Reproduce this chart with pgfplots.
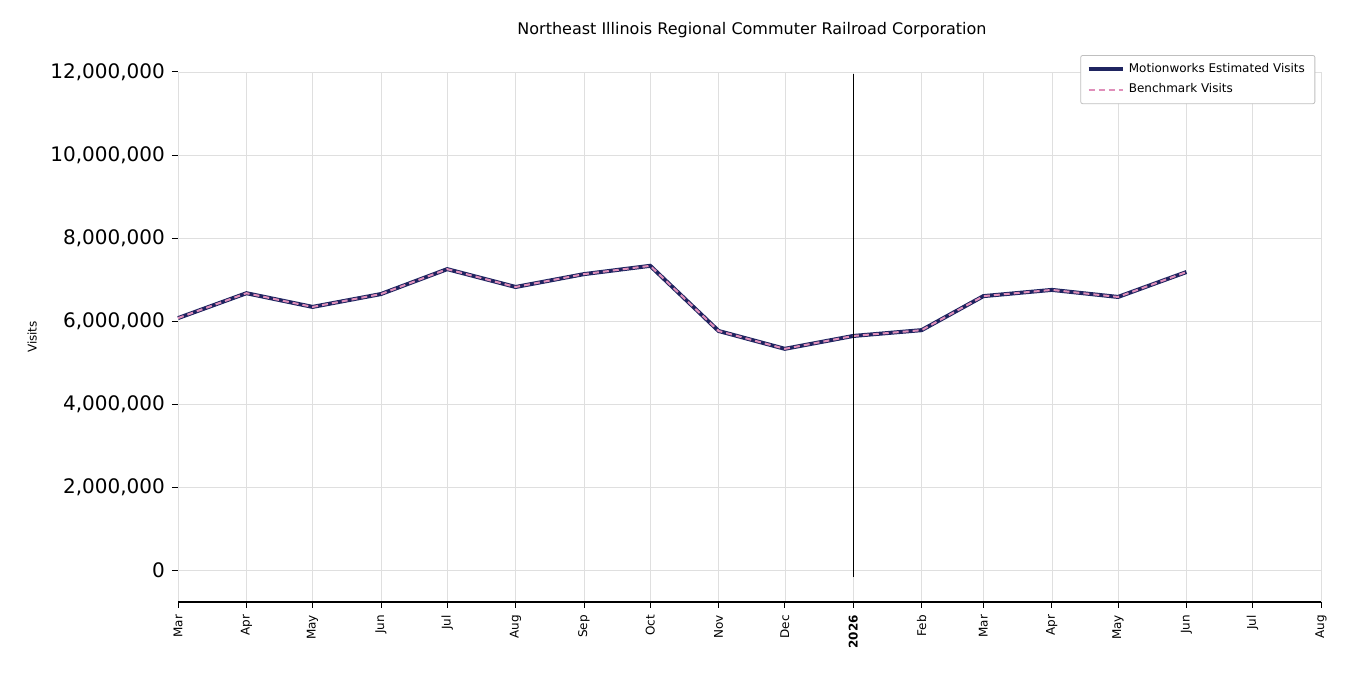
\documentclass[border=0pt]{standalone}
\usepackage{pgfplots}
\pgfplotsset{compat=1.18}
\usepackage{fontspec}
\setmainfont{DejaVu Sans}
\definecolor{navy}{HTML}{1F2460}
\definecolor{pinkb}{HTML}{E08FBA}
\begin{document}
\begin{tikzpicture}
\useasboundingbox (0,0) rectangle (675pt,337.5pt);
\node[font=\fontsize{8}{9}\selectfont] at (376pt,322.5pt) {Northeast Illinois Regional Commuter Railroad Corporation};
\begin{axis}[at={(89pt,36.5pt)},anchor=south west,
 width=571.5pt,height=265pt,scale only axis,
 xmin=0,xmax=518,ymin=-770000,ymax=12000000,
 axis y line*=none,axis x line*=bottom,
 y axis line style={draw=none},
 x axis line style={line width=0.6pt},
 ytick={0,2000000,4000000,6000000,8000000,10000000,12000000},
 scaled y ticks=false,
 yticklabel style={font=\fontsize{10}{12}\selectfont},
 /pgf/number format/assume math mode=true,
 /pgf/number format/.cd,fixed,1000 sep={,},/pgfplots/.cd,
 xtick={0,31,61,92,122,153,184,214,245,275,306,337,365,396,426,457,487,518},
 xticklabels={Mar,Apr,May,Jun,Jul,Aug,Sep,Oct,Nov,Dec,\textbf{2026},Feb,Mar,Apr,May,Jun,Jul,Aug},
 xticklabel style={rotate=90,anchor=east,font=\fontsize{6}{7}\selectfont},
 xmajorgrids,ymajorgrids,grid style={gray!25,line width=0.3pt},
 tick style={black,line width=0.5pt},
 ytick pos=left,xtick pos=bottom,tick align=outside,
 major tick length=3pt,
 ylabel={Visits},ylabel style={font=\fontsize{6}{7}\selectfont},
 legend style={at={(0.995,1.032)},anchor=north east,font=\fontsize{6}{7}\selectfont,draw=gray!50,rounded corners=1pt,row sep=0pt},
 legend cell align=left,
 clip=false]
\addplot[navy,line width=2pt] coordinates {(0,6070000)(31,6670000)(61,6340000)(92,6650000)(122,7250000)(153,6820000)(184,7130000)(214,7330000)(245,5760000)(275,5330000)(306,5640000)(337,5780000)(365,6600000)(396,6750000)(426,6580000)(457,7180000)};
\addlegendentry{Motionworks Estimated Visits}
\addplot[pinkb,line width=1pt,dash pattern=on 3pt off 2pt] coordinates {(0,6070000)(31,6670000)(61,6340000)(92,6650000)(122,7250000)(153,6820000)(184,7130000)(214,7330000)(245,5760000)(275,5330000)(306,5640000)(337,5780000)(365,6600000)(396,6750000)(426,6580000)(457,7180000)};
\addlegendentry{Benchmark Visits}
\draw[black,line width=0.4pt] (axis cs:306,-170000) -- (axis cs:306,11950000);
\end{axis}
\end{tikzpicture}
\end{document}
